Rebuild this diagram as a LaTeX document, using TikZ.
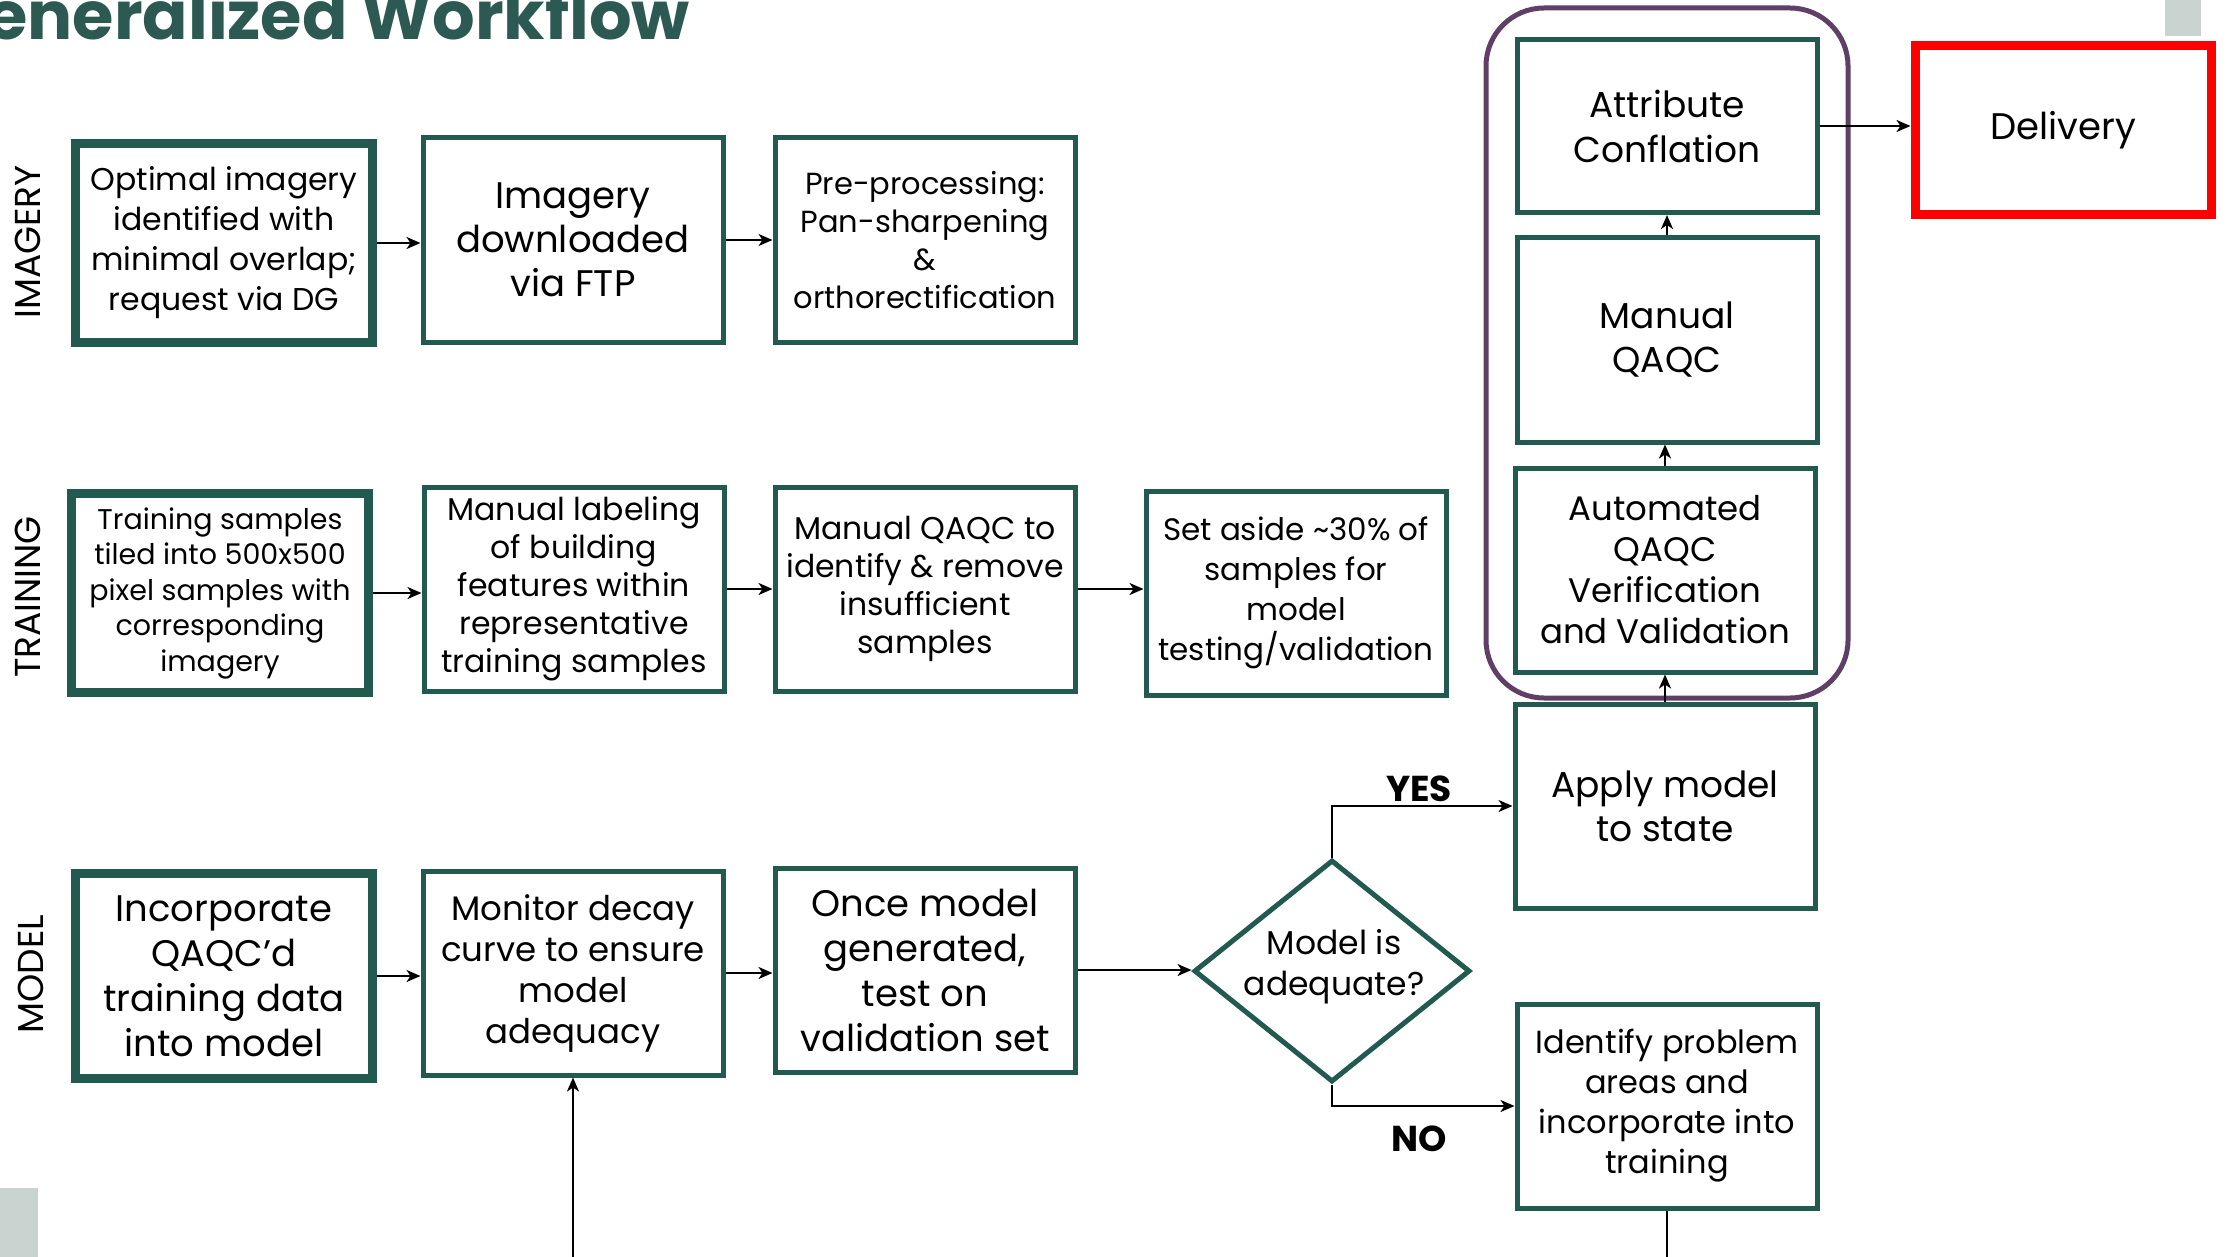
\documentclass[tikz,border=0pt]{standalone}
\usepackage{fontspec}
\setmainfont{Poppins}
\usetikzlibrary{shapes.geometric,arrows.meta,calc}

\definecolor{boxgreen}{HTML}{235A50}
\definecolor{titlegreen}{HTML}{2C5A52}
\definecolor{groupviolet}{HTML}{5F3F66}
\definecolor{slidegray}{HTML}{C9D3D0}

\newcommand{\fs}[2]{\fontsize{#1}{#2}\selectfont}

\tikzset{
  stepbox/.style={draw=boxgreen, line width=5pt, fill=white,
    minimum width=300pt, minimum height=204pt, align=center, inner sep=0pt},
  keybox/.style={stepbox, line width=9pt, minimum width=297pt, minimum height=199pt},
  decision/.style={diamond, draw=boxgreen, line width=5pt, fill=white,
    minimum width=276pt, minimum height=222pt, inner sep=0pt},
  flow/.style={draw=black, line width=2.2pt, -{Stealth[length=14pt,width=12pt,inset=4pt]}},
  plain/.style={draw=black, line width=2.2pt},
  rowlabel/.style={rotate=90, font=\fs{36}{40}},
  answer/.style={font=\fs{36}{40}\bfseries},
}

\begin{document}
\begin{tikzpicture}[x=1pt,y=-1pt]
\useasboundingbox (0,0) rectangle (2229,1257);
\clip (0,0) rectangle (2229,1257);
\fill[white] (0,0) rectangle (2229,1257);

% slide decorations
\fill[slidegray] (2165,0) rectangle (2201,36);
\fill[slidegray] (0,1188) rectangle (38,1257);

% heading, running off the top-left corner of the slide
\node[anchor=base east, font=\fs{67}{74}\bfseries, text=titlegreen, inner sep=0pt]
  (title) at (690,40) {Generalized Workflow};

% row labels
\node[rowlabel] (lblI) at (28,242) {IMAGERY};
\node[rowlabel] (lblT) at (28,597) {TRAINING};
\node[rowlabel] (lblM) at (31,974) {MODEL};

% imagery row
\node[keybox, font=\fs{31.5}{40}] (I1) at (224,243) {Optimal imagery\\identified with\\minimal overlap;\\request via DG};
\node[stepbox, font=\fs{37}{44}] (I2) at (573,240) {Imagery\\downloaded\\via FTP};
\node[stepbox, font=\fs{30.5}{38}] (I3) at (925,240) {Pre-processing:\\Pan-sharpening\\\&\\orthorectification};

% training row
\node[keybox, font=\fs{28.5}{35.5}] (T1) at (220,593) {Training samples\\tiled into 500x500\\pixel samples with\\corresponding\\imagery};
\node[stepbox, font=\fs{31.5}{38}] (T2) at (574,589) {Manual labeling\\of building\\features within\\representative\\training samples};
\node[stepbox, font=\fs{31.5}{38}] (T3) at (925,589) {Manual QAQC to\\identify \& remove\\insufficient\\samples};
\node[stepbox, font=\fs{31}{40}] (T4) at (1296,593) {Set aside \textasciitilde30\% of\\samples for\\model\\testing/validation};

% model row
\node[keybox, font=\fs{37}{45}, minimum height=205pt] (M1) at (224,976) {Incorporate\\QAQC’d\\training data\\into model};
\node[stepbox, font=\fs{34}{41}] (M2) at (573,973) {Monitor decay\\curve to ensure\\model\\adequacy};
\node[stepbox, font=\fs{37}{45}] (M3) at (925,970) {Once model\\generated,\\test on\\validation set};
\node[decision] (dq) at (1332,971) {};
\node[font=\fs{33}{41}, align=center] (dqtext) at (1334,967) {Model is\\adequate?};

% output column
\draw[groupviolet, line width=5pt, rounded corners=58pt] (1486,8) rectangle (1848,698);
\node[stepbox, font=\fs{36}{44}] (Ap) at (1665,806) {Apply model\\to state};
\node[stepbox, font=\fs{32}{40}] (Id) at (1667,1106) {Identify problem\\areas and\\incorporate into\\training};
\node[stepbox, font=\fs{34}{41}] (Au) at (1665,570) {Automated\\QAQC\\Verification\\and Validation};
\node[stepbox, font=\fs{36}{44}] (Mq) at (1667,340) {Manual\\QAQC};
\node[stepbox, font=\fs{36}{45}, minimum height=173pt] (At) at (1667,126) {Attribute\\Conflation};
\node[draw=red, line width=9pt, fill=white, minimum width=296pt, minimum height=169pt,
  font=\fs{37}{45}, inner sep=0pt] (Dl) at (2063,130) {Delivery};

% connectors, imagery row
\draw[flow] (I1.east) -- (I1.east -| I2.west);
\draw[flow] (I2.east) -- (I2.east -| I3.west);

% connectors, training row
\draw[flow] (T1.east) -- (T1.east -| T2.west);
\draw[flow] (T2.east) -- (T2.east -| T3.west);
\draw[flow] (T3.east) -- (T3.east -| T4.west);

% connectors, model row
\draw[flow] (M1.east) -- (M1.east -| M2.west);
\draw[flow] (M2.east) -- (M2.east -| M3.west);
\draw[flow] (M3.east) -- (M3.east -| dq.west);

% decision branches
\draw[flow] (dq.north) |- (Ap.west);
\draw[flow] (dq.south) |- (Id.west);
\node[answer] (yes) at (1419,789) {YES};
\node[answer] (no) at (1419,1139) {NO};

% feedback loop leaving the bottom edge
\coordinate (loopR) at ($(Id.south)+(0,120)$);
\coordinate (loopL) at ($(M2.south)+(0,200)$);
\draw[plain] (Id.south) -- (loopR);
\draw[flow] (loopL) -- (M2.south);

% output column
\draw[flow] (Ap.north) -- (Au.south);
\draw[flow] (Au.north) -- (Au.north |- Mq.south);
\draw[flow] (Mq.north) -- (Mq.north |- At.south);
\draw[flow] (At.east) -- (At.east -| Dl.west);
\end{tikzpicture}
\end{document}
